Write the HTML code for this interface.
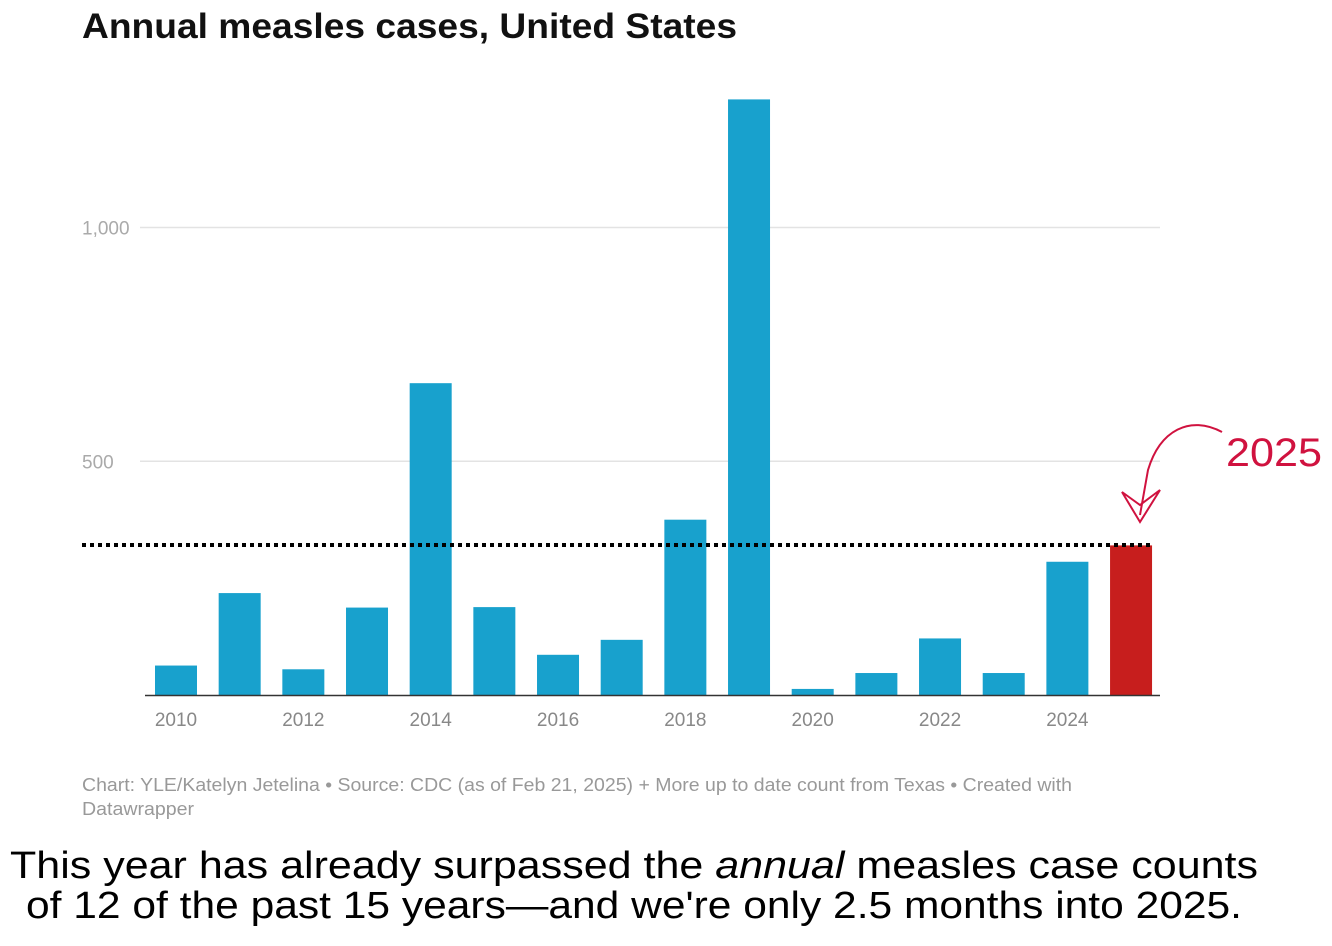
<!DOCTYPE html>
<html><head><meta charset="utf-8"><style>
body{margin:0;background:#fff;width:1332px;height:946px;overflow:hidden;font-family:"Liberation Sans",sans-serif}
svg{position:absolute;left:0;top:0}
</style></head><body>
<svg width="1332" height="946">
<text x="82" y="38" font-size="35" font-weight="bold" fill="#111" textLength="655" lengthAdjust="spacingAndGlyphs">Annual measles cases, United States</text>
<g id="grid"></g><g id="bars"></g><g id="xt"></g>
<line x1="82" x2="1153" y1="545" y2="545" stroke="#000" stroke-width="4" stroke-dasharray="4,4"/>
<path d="M1222 432 C1190 415,1160 430,1148 470 L1140 515" fill="none" stroke="#d0123f" stroke-width="2"/>
<path d="M1122 492 L1140 522 L1160 490 L1140 505 Z" fill="none" stroke="#d0123f" stroke-width="2"/>
<text x="1226" y="466" font-size="40" fill="#d0123f" textLength="96" lengthAdjust="spacingAndGlyphs">2025</text>
<text x="82" y="791" font-size="18" fill="#999" textLength="990" lengthAdjust="spacingAndGlyphs">Chart: YLE/Katelyn Jetelina • Source: CDC (as of Feb 21, 2025) + More up to date count from Texas • Created with</text>
<text x="82" y="815" font-size="18" fill="#999" textLength="112" lengthAdjust="spacingAndGlyphs">Datawrapper</text>
<text x="10" y="878" font-size="38" fill="#000" textLength="1248" lengthAdjust="spacingAndGlyphs">This year has already surpassed the <tspan font-style="italic">annual</tspan> measles case counts</text>
<text x="26" y="918" font-size="38" fill="#000" textLength="1216" lengthAdjust="spacingAndGlyphs">of 12 of the past 15 years—and we're only 2.5 months into 2025.</text>
</svg>
<script>
const years=[2010,2011,2012,2013,2014,2015,2016,2017,2018,2019,2020,2021,2022,2023,2024,2025];
const cases=[63,218,55,187,667,188,86,118,375,1274,13,47,121,47,285,320];
const yTicks=[500,1000];
const yTickLabels=["500","1,000"];
const xTickYears=[2010,2012,2014,2016,2018,2020,2022,2024];
const y=v=>695-v*0.4675;
const x=i=>176+i*63.67;
const ns="http://www.w3.org/2000/svg";
function mk(t,a,p){const e=document.createElementNS(ns,t);for(const k in a)e.setAttribute(k,a[k]);document.querySelector(p).appendChild(e);return e;}
yTicks.forEach((v,i)=>{
 const l=mk('line',{x1:140,x2:1160,y1:y(v),y2:y(v),stroke:'#e3e3e3','stroke-width':1.5},'#grid');
 
 
 const t=mk('text',{x:82,y:y(v)+7,'font-size':19,fill:'#aaa'},'#grid');t.textContent=yTickLabels[i];
 
 
});
cases.forEach((v,i)=>{
 const r=mk('rect',{x:x(i)-21,y:y(v),width:42,height:695-y(v),fill:years[i]===2025?'#c71e1d':'#18a1cd'},'#bars');
 
 
});
const b=mk('line',{x1:145,x2:1160,y1:695.5,y2:695.5,stroke:'#333','stroke-width':1.5},'#bars');


xTickYears.forEach(yr=>{
 const t=mk('text',{x:x(years.indexOf(yr)),y:726,'font-size':19,fill:'#888','text-anchor':'middle'},'#xt');t.textContent=yr;
 
 
});
</script>
</body></html>
